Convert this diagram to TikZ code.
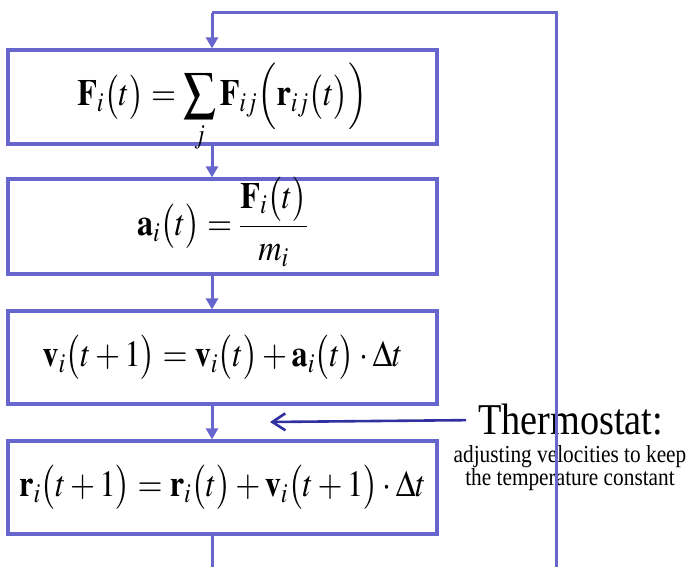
\documentclass[tikz,border=0pt]{standalone}
\usepackage{mathptmx}
\usepackage{fontspec}
\setmainfont{Liberation Serif}
\usetikzlibrary{arrows.meta}
\definecolor{boxblue}{RGB}{102,102,204}
\definecolor{thermoblue}{RGB}{48,48,160}
\newcommand\squeeze[1]{\scalebox{0.87}[1]{#1}}
\tikzset{
  eqbox/.style={draw=boxblue, line width=3.2pt, minimum width=429pt, inner sep=0pt,
    text height=18pt, text depth=0pt, font=\fontsize{37}{44}\selectfont},
  flow/.style={draw=boxblue, line width=3pt, -{Triangle[length=11pt,width=12pt]}},
  loopline/.style={draw=boxblue, line width=3pt},
  thermoarrow/.style={draw=thermoblue, line width=2.6pt,
    -{Straight Barb[length=13pt,width=17pt,line width=2.6pt]}},
  thermotitle/.style={inner sep=0pt, font=\fontsize{44}{50}\selectfont},
  thermonote/.style={inner sep=0pt, align=center, font=\fontsize{24.5}{23}\selectfont},
}
\begin{document}
\begin{tikzpicture}[x=1pt,y=1pt]
\useasboundingbox (0,0) rectangle (692,567);

\node[eqbox, minimum height=94pt] (b1) at (222.5,470)
  {\squeeze{$\displaystyle \mathbf{F}_i\bigl(t\bigr)=\sum_j \mathbf{F}_{ij}\Bigl(\mathbf{r}_{ij}\bigl(t\bigr)\Bigr)$}};
\node[eqbox, minimum height=95pt] (b2) at (222.5,340.5)
  {\squeeze{$\displaystyle \mathbf{a}_i\bigl(t\bigr)=\frac{\mathbf{F}_i\bigl(t\bigr)}{m_i}$}};
\node[eqbox, minimum height=93pt] (b3) at (222.5,209.5)
  {\squeeze{$\mathbf{v}_i\bigl(t+1\bigr)=\mathbf{v}_i\bigl(t\bigr)+\mathbf{a}_i\bigl(t\bigr)\cdot\Delta t$}};
\node[eqbox, minimum height=93pt] (b4) at (222.5,79.5)
  {\squeeze{$\mathbf{r}_i\bigl(t+1\bigr)=\mathbf{r}_i\bigl(t\bigr)+\mathbf{v}_i\bigl(t+1\bigr)\cdot\Delta t$}};

\coordinate (tl) at (212,554);
\coordinate (tr) at (556,554);
\coordinate (br) at (556,0);
\coordinate (bl) at (212,0);
\coordinate (ttip) at (270,145);

\draw[flow] (b1.south -| tl) -- (b2.north -| tl);
\draw[flow] (b2.south -| tl) -- (b3.north -| tl);
\draw[flow] (b3.south -| tl) -- (b4.north -| tl);
\draw[loopline] (b4.south -| bl) -- (bl);

\node[thermotitle, anchor=base west] (thermo) at (478,132) {\squeeze{Thermostat:}};
\node[thermonote] (note) at (570,99) {\squeeze{adjusting velocities to keep}\\\squeeze{the temperature constant}};
\draw[thermoarrow, shorten <=12pt] (thermo.west) -- (ttip);

\draw[loopline] (br) -- (tr) -- (tl);
\draw[flow] (tl) -- (b1.north -| tl);
\end{tikzpicture}
\end{document}
